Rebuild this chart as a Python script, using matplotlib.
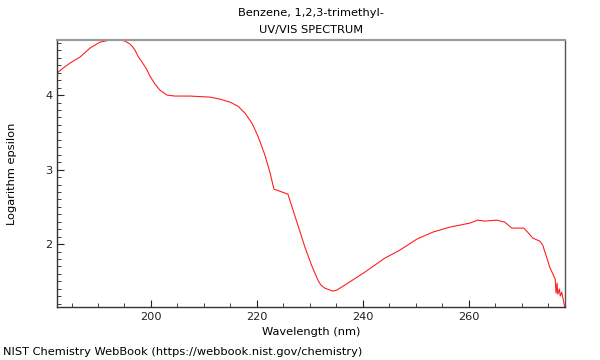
"""
UV/VIS spectrum of 1,2,3-trimethylbenzene, redrawn in the NIST WebBook style.
Writes out.png (600x360).
"""

import matplotlib
matplotlib.use("Agg")
import matplotlib.pyplot as plt
from matplotlib.ticker import MultipleLocator

# ---------------------------------------------------------------
# DATA
# ---------------------------------------------------------------
wavelength = [182.26, 183.40, 184.72, 186.60, 188.49, 190.38, 192.26, 194.15,
              195.09, 196.04, 196.60, 196.98, 197.55, 198.30, 199.06, 199.81,
              200.75, 201.70, 203.02, 204.53, 207.36, 211.13, 213.02, 214.91,
              216.42, 217.74, 219.06, 220.19, 221.51, 222.45, 223.21, 225.85,
              227.55, 229.06, 230.38, 231.51, 232.08, 232.83, 234.34, 235.09,
              236.60, 240.38, 244.15, 246.98, 250.19, 253.21, 256.42, 260.19,
              261.70, 263.02, 265.28, 266.79, 268.11, 270.38, 270.94, 272.08,
              273.40, 273.96, 275.28, 276.32, 276.47, 276.66, 276.79, 277.11,
              277.26, 277.55, 278.11]
log_eps = [4.295, 4.362, 4.430, 4.510, 4.631, 4.711, 4.738, 4.738,
           4.725, 4.685, 4.644, 4.604, 4.523, 4.443, 4.362, 4.255,
           4.148, 4.067, 4.000, 3.987, 3.987, 3.973, 3.946, 3.906,
           3.852, 3.758, 3.624, 3.450, 3.195, 2.966, 2.738, 2.671,
           2.295, 1.960, 1.705, 1.517, 1.450, 1.409, 1.369, 1.383,
           1.450, 1.624, 1.812, 1.919, 2.067, 2.161, 2.228, 2.282,
           2.322, 2.309, 2.322, 2.295, 2.215, 2.215, 2.174, 2.081,
           2.040, 1.987, 1.691, 1.530, 1.342, 1.477, 1.329, 1.396,
           1.302, 1.356, 1.154]

title_lines = ["Benzene, 1,2,3-trimethyl-", "UV/VIS SPECTRUM"]
x_ticks = [200, 220, 240, 260]
y_ticks = [2, 3, 4]

FS = 8.2

# ---------------------------------------------------------------
# PLOT
# ---------------------------------------------------------------
fig = plt.figure(figsize=(6, 3.6), dpi=100)
ax = fig.add_axes([0.095, 0.147, 0.847, 0.742])

ax.plot(wavelength, log_eps, color='#ff2020', linewidth=0.8)

ax.set_xlim(182.26, 278.2)
ax.set_ylim(1.155, 4.74)
ax.set_xticks(x_ticks)
ax.set_yticks(y_ticks)
ax.xaxis.set_minor_locator(MultipleLocator(5))
ax.yaxis.set_minor_locator(MultipleLocator(0.1))
ax.tick_params(which='both', direction='in', labelsize=FS, colors='#222222')
ax.tick_params(which='major', length=5, width=0.8)
ax.tick_params(which='minor', length=3, width=0.6)
ax.tick_params(axis='x', which='both', top=False)
ax.tick_params(axis='y', which='both', right=False)

for side in ['left', 'bottom']:
    ax.spines[side].set_color('#333333')
    ax.spines[side].set_linewidth(1.0)
ax.spines['top'].set_color('#999999')
ax.spines['top'].set_linewidth(1.5)
ax.spines['right'].set_color('#555555')
ax.spines['right'].set_linewidth(1.0)

ax.set_xlabel('Wavelength (nm)', fontsize=FS, labelpad=3.5)
ax.set_ylabel('Logarithm epsilon', fontsize=FS, labelpad=20)

fig.text(0.518, 0.963, title_lines[0], ha='center', va='center', fontsize=FS)
fig.text(0.518, 0.916, title_lines[1], ha='center', va='center', fontsize=FS)
fig.text(0.005, 0.022, 'NIST Chemistry WebBook (https://webbook.nist.gov/chemistry)',
         ha='left', va='center', fontsize=FS)

plt.savefig('out.png', dpi=100)
plt.close()
